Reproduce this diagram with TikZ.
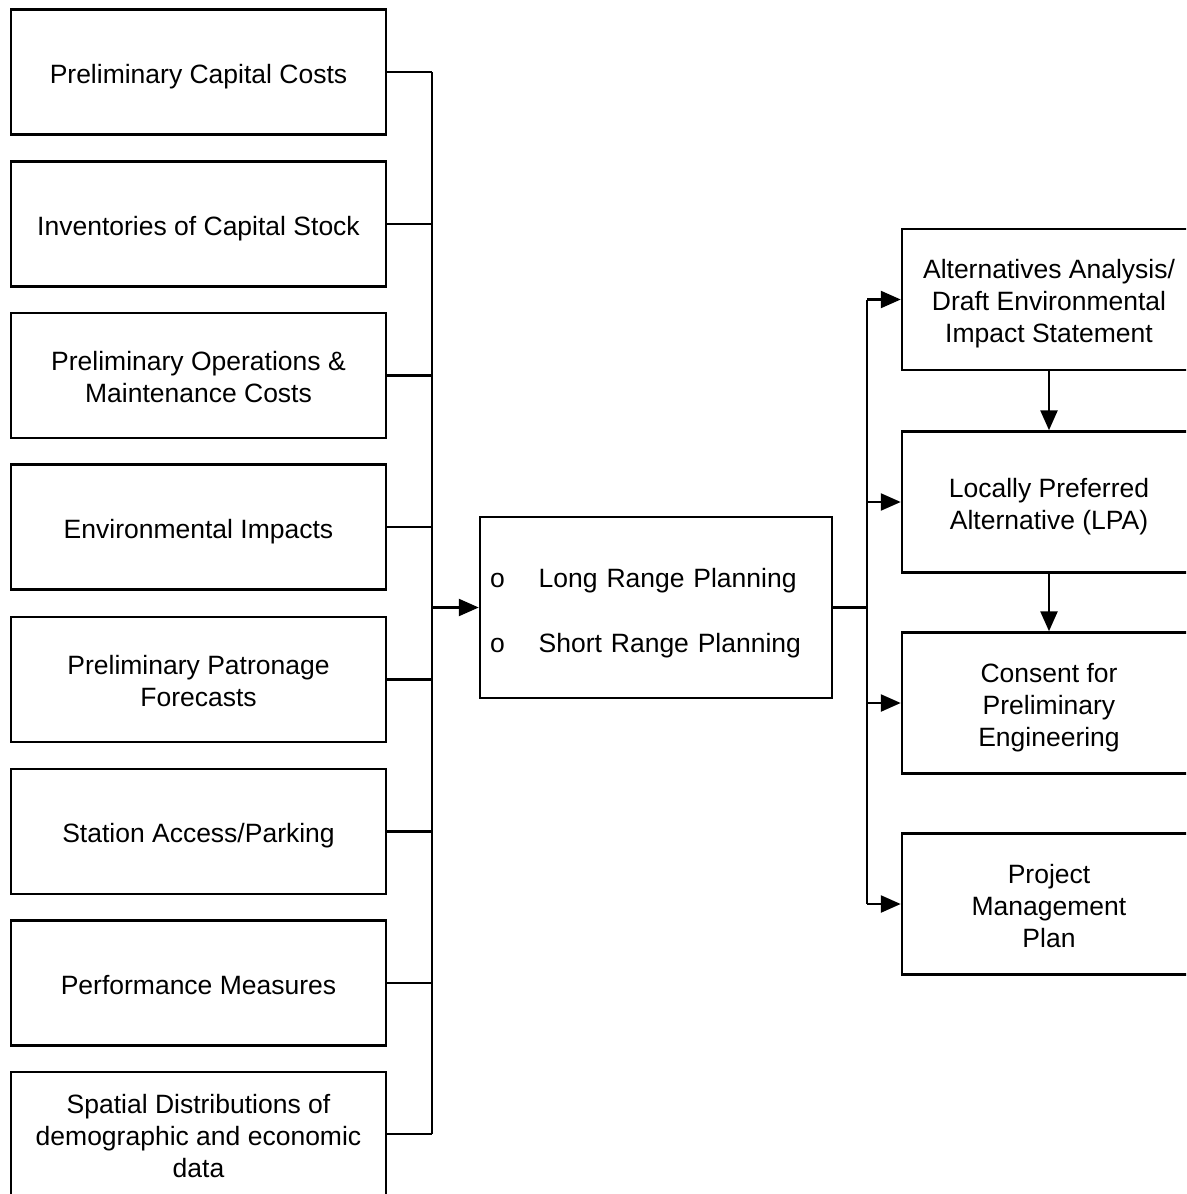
\documentclass[tikz,border=0pt]{standalone}
\usepackage{fontspec}
\setmainfont{Liberation Sans}
\usetikzlibrary{arrows.meta}
% centred block of lines, lowered a little inside its box
\newcommand\celltext[1]{\raisebox{-5pt}[\height][\depth]{\begin{tabular}{@{}c@{}}#1\end{tabular}}}
\begin{document}
\begin{tikzpicture}[x=1pt,y=-1pt,
  line width=2.5pt,
  every node/.style={font=\fontsize{26.5}{32}\selectfont},
  inbox/.style={draw, minimum width=375pt, minimum height=125pt, inner sep=0pt},
  outbox/.style={draw, minimum width=294pt, minimum height=141pt, inner sep=0pt},
  planbox/.style={draw, minimum width=352pt, minimum height=181pt, text width=332pt, inner xsep=10pt, align=left},
  arr/.style={-{Triangle[length=20pt,width=17pt]}}]
\useasboundingbox (0,0) rectangle (1186,1194);
\clip (0,0) rectangle (1186,1194);

% input boxes
\node[inbox] (b1) at (198.5,72)   {\celltext{Preliminary Capital Costs}};
\node[inbox] (b2) at (198.5,224)  {\celltext{Inventories of Capital Stock}};
\node[inbox] (b3) at (198.5,375.5){\celltext{Preliminary Operations \&\\Maintenance Costs}};
\node[inbox] (b4) at (198.5,527)  {\celltext{Environmental Impacts}};
\node[inbox] (b5) at (198.5,679.5){\celltext{Preliminary Patronage\\Forecasts}};
\node[inbox] (b6) at (198.5,831.5){\celltext{Station Access/Parking}};
\node[inbox] (b7) at (198.5,983)  {\celltext{Performance Measures}};
\node[inbox, minimum height=124pt] (b8) at (198.5,1134)
  {\celltext{Spatial Distributions of\\demographic and economic\\data}};

% planning box
\node[planbox] (plan) at (656,607.5)
  {\raisebox{-6pt}[\height][\depth]{\begin{tabular}{@{}l@{\hspace{34pt}}l@{}}
   o & Long Range Planning\\[33pt]
   o & Short Range Planning
   \end{tabular}}};

% output boxes
\node[outbox] (r1) at (1049,299.5) {\celltext{Alternatives Analysis/\\Draft Environmental\\Impact Statement}};
\node[outbox] (r2) at (1049,502)   {\celltext{Locally Preferred\\Alternative (LPA)}};
\node[outbox] (r3) at (1049,703)   {\celltext{Consent for\\Preliminary\\Engineering}};
\node[outbox] (r4) at (1049,904)   {\celltext{Project\\Management\\Plan}};

% collector bus on the left
\coordinate (lbus) at (432,0);
\foreach \b in {b1,b2,b3,b4,b5,b6,b7,b8}
  \draw (\b.east) -- (\b.east -| lbus);
\draw (b1.east -| lbus) -- (b8.east -| lbus);
\draw[arr] (plan.west -| lbus) -- (plan.west);

% distribution bus on the right
\coordinate (rbus) at (867,0);
\draw (plan.east) -- (plan.east -| rbus);
\draw (r1.west -| rbus) -- (r4.west -| rbus);
\foreach \r in {r1,r2,r3,r4}
  \draw[arr] (\r.west -| rbus) -- (\r.west);

% sequence arrows
\draw[arr] (r1.south) -- (r2.north);
\draw[arr] (r2.south) -- (r3.north);
\end{tikzpicture}
\end{document}
